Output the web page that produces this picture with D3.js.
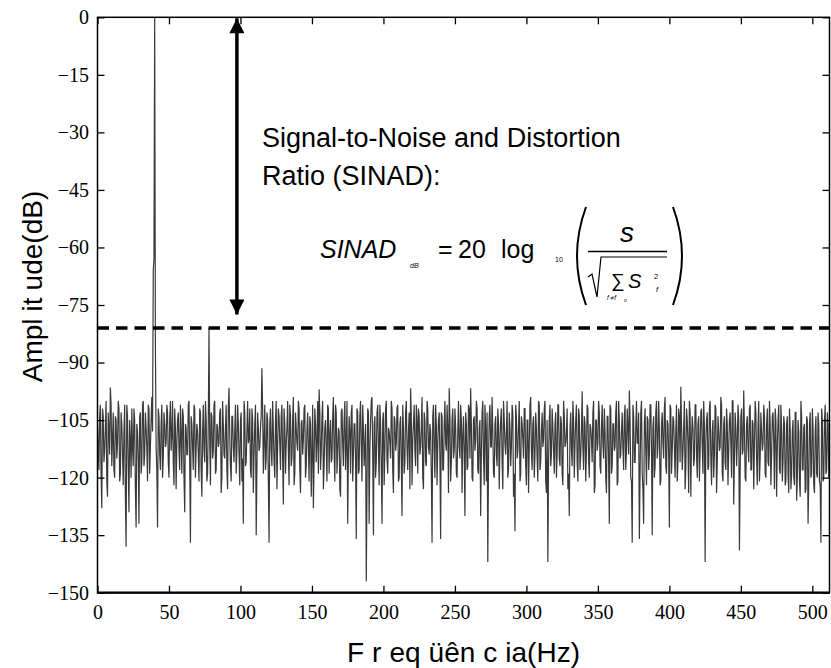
<!DOCTYPE html>
<html>
<head>
<meta charset="utf-8">
<script src="https://d3js.org/d3.v7.min.js"></script>
<style>
  body { margin: 0; background: #fff; }
  svg { display: block; }
  .title { font-family: "Liberation Sans", Arial, sans-serif; font-size: 28px; fill: #000; }
  .note { font-family: "Liberation Sans", Arial, sans-serif; font-size: 27px; fill: #000; }
  .eq { font-family: "Liberation Sans", Arial, sans-serif; fill: #000; }
</style>
</head>
<body>
<svg id="chart" width="831" height="668"></svg>
<script>
// spectrum: whole-Hz samples in blocks of 64 Hz ...
const noise000 = [-106,-118,-101,-128,-104,-113,-100,-125,-108,-96.5,-117,-103,-120,-105,-111,-102,
  -119,-106,-122,-101,-138,-104,-129,-110,-102,-117,-105,-133,-108,-132,-103,-116,
  -100,-114,-107,-121,-102,-112,-99,-66,0,-112,-133,-104,-118,-101,-115,-106,
  -111,-103,-120,-100,-109,-116,-102,-123,-105,-113,-101,-119,-104,-129,-107,-114];
const noise064 = [-100,-137,-106,-118,-102,-112,-108,-121,-103,-125,-101,-116,-105,-119,-81,-122,
  -104,-113,-100,-118,-107,-111,-102,-120,-106,-115,-101,-123,-96.6,-117,-104,-112,
  -108,-119,-101,-114,-105,-121,-132,-103,-116,-100,-110,-118,-102,-124,-106,-135,
  -103,-113,-107,-91.5,-119,-101,-115,-105,-137,-102,-117,-108,-120,-100,-112,-104];
const noise128 = [-118,-101,-127,-106,-111,-100,-122,-104,-115,-99,-119,-107,-113,-102,-124,-105,
  -110,-101,-117,-103,-121,-106,-114,-128,-102,-116,-100,-97,-118,-104,-123,-107,
  -112,-101,-119,-105,-115,-99,-121,-103,-113,-108,-125,-102,-117,-100,-111,-132,
  -104,-119,-101,-114,-106,-136,-103,-118,-100,-121,-107,-112,-147,-102,-132,-105];
const noise192 = [-99,-135,-104,-116,-101,-122,-106,-132,-103,-113,-100,-119,-108,-115,-102,-124,
  -105,-111,-101,-120,-104,-130,-107,-116,-100,-118,-103,-96.7,-122,-106,-113,-101,
  -119,-104,-112,-99,-123,-105,-117,-102,-114,-108,-137,-101,-120,-106,-111,-103,
  -136,-104,-118,-100,-113,-107,-96.7,-121,-105,-115,-102,-119,-108,-112,-101,-124];
const noise256 = [-104,-130,-106,-117,-102,-96.7,-120,-105,-113,-100,-118,-107,-130,-103,-115,-101,
  -121,-142,-104,-112,-99,-119,-106,-114,-102,-123,-105,-116,-100,-111,-108,-120,
  -103,-117,-101,-125,-134,-104,-113,-100,-119,-106,-115,-102,-122,-105,-112,-99,
  -118,-104,-114,-107,-121,-101,-116,-103,-110,-100,-124,-142,-105,-117,-102,-113];
const noise320 = [-106,-120,-101,-115,-104,-119,-100,-112,-108,-123,-130,-103,-117,-105,-111,-101,
  -121,-104,-114,-97.5,-118,-106,-113,-102,-120,-107,-116,-100,-122,-105,-111,-103,
  -119,-101,-115,-108,-124,-104,-132,-102,-117,-106,-112,-100,-121,-105,-114,-103,
  -118,-101,-113,-107,-97.3,-120,-137,-104,-116,-100,-111,-136,-103,-119,-132,-102];
const noise384 = [-122,-105,-114,-101,-135,-104,-117,-100,-112,-107,-121,-103,-115,-99,-119,-106,
  -133,-102,-113,-105,-120,-101,-116,-104,-96.3,-118,-107,-123,-102,-111,-100,-125,
  -104,-117,-101,-114,-106,-121,-103,-112,-100,-142,-105,-118,-102,-115,-108,-120,
  -101,-124,-104,-113,-99,-119,-106,-116,-102,-122,-105,-111,-100,-127,-103,-117];
const noise448 = [-101,-139,-104,-114,-97.3,-120,-106,-112,-102,-118,-105,-123,-100,-115,-107,-121,
  -103,-113,-101,-119,-106,-116,-100,-122,-104,-111,-102,-125,-105,-118,-101,-121,
  -104,-122,-106,-119,-102,-123,-108,-120,-103,-126,-105,-121,-100,-118,-107,-124,
  -104,-132,-106,-120,-102,-122,-108,-119,-103,-121,-137,-105,-120,-101,-118,-106];

// ... and the half-Hz samples in between
const half000 = [-112,-104,-119,-102,-116,-107,-121,-103,-114,-101,-110,-118,-104,-115,-100,-121,
  -103,-114,-108,-125,-101,-117,-105,-120,-112,-102,-123,-106,-115,-104,-119,-101,
  -117,-103,-112,-101,-119,-105,-108,-63,-85,-118,-102,-114,-106,-120,-103,-112,
  -101,-116,-105,-113,-100,-122,-107,-111,-103,-118,-109,-102,-120,-106,-114,-101];
const half064 = [-116,-104,-112,-101,-120,-106,-114,-102,-118,-108,-113,-100,-121,-105,-110,-103,
  -115,-101,-119,-106,-112,-103,-124,-100,-114,-107,-118,-102,-109,-121,-104,-116,
  -101,-113,-106,-122,-103,-115,-100,-117,-108,-111,-102,-120,-105,-114,-101,-118,
  -107,-112,-104,-102,-110,-118,-103,-121,-106,-113,-100,-116,-105,-123,-102,-111];
const half128 = [-104,-115,-102,-119,-107,-113,-101,-117,-105,-122,-103,-111,-100,-118,-106,-114,
  -102,-120,-108,-112,-104,-125,-101,-116,-106,-110,-119,-103,-113,-100,-117,-105,
  -121,-102,-109,-116,-104,-113,-101,-119,-107,-123,-103,-111,-105,-118,-100,-114,
  -108,-103,-121,-106,-115,-102,-119,-104,-112,-101,-117,-106,-122,-103,-113,-100];
const half192 = [-114,-106,-120,-103,-112,-101,-117,-105,-122,-102,-115,-107,-111,-100,-118,-104,
  -113,-102,-121,-106,-116,-101,-119,-103,-112,-108,-123,-104,-110,-101,-117,-105,
  -102,-114,-107,-120,-103,-116,-100,-112,-106,-119,-104,-113,-101,-122,-105,-115,
  -103,-118,-106,-111,-101,-124,-104,-116,-102,-113,-107,-120,-100,-115,-105,-109];
const half256 = [-113,-103,-118,-101,-115,-106,-121,-104,-110,-102,-119,-105,-114,-100,-122,-107,
  -103,-116,-101,-112,-108,-120,-104,-117,-106,-111,-102,-123,-105,-114,-100,-118,
  -107,-112,-103,-119,-101,-115,-106,-121,-104,-110,-102,-117,-105,-124,-101,-113,
  -106,-120,-103,-115,-100,-118,-108,-112,-102,-121,-105,-116,-101,-114,-107,-119];
const half320 = [-103,-114,-101,-117,-106,-122,-104,-111,-102,-119,-107,-113,-100,-120,-105,-116,
  -102,-118,-108,-112,-104,-121,-101,-115,-106,-110,-103,-124,-105,-113,-100,-117,
  -107,-111,-102,-120,-104,-116,-101,-119,-106,-113,-103,-122,-100,-115,-108,-112,
  -104,-118,-102,-114,-105,-121,-101,-116,-107,-111,-103,-119,-100,-123,-106,-113];
const half384 = [-104,-118,-101,-113,-107,-120,-103,-115,-100,-122,-106,-111,-102,-117,-105,-114,
  -101,-119,-104,-112,-108,-121,-102,-116,-106,-113,-100,-118,-105,-124,-103,-110,
  -107,-115,-101,-120,-104,-113,-102,-119,-106,-111,-103,-117,-100,-122,-105,-114,
  -102,-116,-108,-112,-101,-121,-104,-118,-106,-113,-103,-120,-100,-115,-107,-111];
const half448 = [-105,-119,-102,-113,-107,-121,-104,-116,-101,-118,-106,-112,-103,-122,-100,-115,
  -108,-111,-104,-120,-102,-117,-106,-114,-103,-123,-105,-112,-101,-119,-107,-116,
  -106,-121,-104,-124,-107,-119,-105,-122,-103,-120,-108,-125,-104,-118,-106,-123,
  -105,-121,-103,-119,-107,-124,-104,-120,-106,-122,-102,-121,-105,-119,-103,-120];

const wholeHz = [].concat(noise000, noise064, noise128, noise192, noise256, noise320, noise384, noise448);
const halfHz = [].concat(half000, half064, half128, half192, half256, half320, half384, half448);
const freqStep = 0.5;
const amplitude = d3.merge(wholeHz.map((v, i) => [v, halfHz[i]]));

const sinadLevel = -81;      // dashed line, dB
const arrowFreq = 97.5;      // where the SINAD arrow stands, Hz
const arrowTop = 0, arrowBottom = -77.5;

const xTicks = [0, 50, 100, 150, 200, 250, 300, 350, 400, 450, 500];
const yTicks = [0, -15, -30, -45, -60, -75, -90, -105, -120, -135, -150];

const svg = d3.select('#chart');
const pLeft = 97.5, pRight = 829.5, pTop = 17.3, pBottom = 592.7;

const x = d3.scaleLinear().domain([0, 512]).range([pLeft, pRight]);
const y = d3.scaleLinear().domain([-150, 0]).range([pBottom, pTop]);

const defs = svg.append('defs');
defs.append('clipPath').attr('id', 'plotClip')
  .append('rect').attr('x', pLeft).attr('y', pTop).attr('width', pRight - pLeft).attr('height', pBottom - pTop);

// spectrum line
const line = d3.line()
  .x((d, i) => x(i * freqStep))
  .y(d => y(d));
svg.append('path')
  .datum(amplitude)
  .attr('clip-path', 'url(#plotClip)')
  .attr('d', line)
  .attr('fill', 'none')
  .attr('stroke', '#3a3a3a')
  .attr('stroke-width', 1.2);

// dashed SINAD level
svg.append('line')
  .attr('x1', pLeft).attr('x2', pRight)
  .attr('y1', y(sinadLevel)).attr('y2', y(sinadLevel))
  .attr('stroke', '#000').attr('stroke-width', 3.5)
  .attr('stroke-dasharray', '11.5,7');

// axes, ticks inward on all four sides
const serif = '"Liberation Serif", "Times New Roman", serif';
svg.append('g').attr('transform', `translate(0,${pBottom})`)
  .call(d3.axisBottom(x).tickValues(xTicks).tickSize(-7).tickPadding(12));
svg.append('g').attr('transform', `translate(${pLeft},0)`)
  .call(d3.axisLeft(y).tickValues(yTicks).tickSize(-7).tickPadding(8.5));
svg.append('g').attr('transform', `translate(0,${pTop})`)
  .call(d3.axisTop(x).tickValues(xTicks).tickSize(-7).tickFormat(''));
svg.append('g').attr('transform', `translate(${pRight},0)`)
  .call(d3.axisRight(y).tickValues(yTicks).tickSize(-7).tickFormat(''));
svg.selectAll('.domain').remove();
svg.selectAll('.tick line').attr('stroke', '#000').attr('stroke-width', 1.3);
svg.selectAll('.tick').select('text')
  .attr('font-family', serif).attr('font-size', 20)
  .style('font-family', serif).style('font-size', '20px')
  .attr('fill', '#000');

svg.append('rect')
  .attr('x', pLeft).attr('y', pTop).attr('width', pRight - pLeft).attr('height', pBottom - pTop)
  .attr('fill', 'none').attr('stroke', '#000').attr('stroke-width', 1.5);
svg.append('line').attr('x1', pLeft).attr('x2', pRight).attr('y1', pBottom).attr('y2', pBottom)
  .attr('stroke', '#000').attr('stroke-width', 2.2);

// axis titles
const xt = svg.append('text').attr('class', 'title')
  .attr('x', (pLeft + pRight) / 2).attr('y', 662).attr('text-anchor', 'middle');
['F', 'r', 'eq', 'üên', 'c', 'ia(Hz)'].forEach((s, i) => {
  xt.append('tspan').attr('dx', i ? 8 : 0).text(s);
});
const yt = svg.append('text').attr('class', 'title')
  .attr('transform', 'translate(41.5,286.5) rotate(-90)').attr('text-anchor', 'middle');
['Ampl', 'it', 'ude(dB)'].forEach((s, i) => {
  yt.append('tspan').attr('dx', i ? 7 : 0).text(s);
});

// double arrow
defs.append('marker').attr('id', 'head').attr('viewBox', '0 0 10 10')
  .attr('refX', 10).attr('refY', 5).attr('markerWidth', 17).attr('markerHeight', 15)
  .attr('markerUnits', 'userSpaceOnUse').attr('orient', 'auto-start-reverse')
  .append('path').attr('d', 'M0,0 L10,5 L0,10 Z').attr('fill', '#000');
svg.append('line')
  .attr('x1', x(arrowFreq)).attr('x2', x(arrowFreq))
  .attr('y1', y(arrowTop) + 1).attr('y2', y(arrowBottom))
  .attr('stroke', '#000').attr('stroke-width', 3.5)
  .attr('marker-start', 'url(#head)').attr('marker-end', 'url(#head)');

// annotation text
svg.append('text').attr('class', 'note').attr('x', 262).attr('y', 147).text('Signal-to-Noise and Distortion');
svg.append('text').attr('class', 'note').attr('x', 262).attr('y', 185).text('Ratio (SINAD):');

// SINAD formula
const eq = svg.append('g').attr('class', 'eq');
function eqText(tx, ty, size, s, italic, anchor) {
  eq.append('text').attr('x', tx).attr('y', ty).attr('font-size', size)
    .attr('font-style', italic ? 'italic' : 'normal')
    .attr('text-anchor', anchor || 'start').text(s);
}
eqText(320, 258, 25, 'SINAD', true);
eqText(410, 268, 7, 'dB', true);
eqText(438, 258, 25, '=', false);
eqText(458, 258, 25, '20', false);
eqText(501, 258, 25, 'log', false);
eqText(555, 262, 7, '10', false);
eqText(627, 242, 28, 's', true, 'middle');
eqText(618, 287, 19, '∑', false, 'middle');
eqText(628, 288, 20, 'S', true);
eqText(654, 279, 7.5, '2', false);
eqText(656, 292, 7.5, 'f', true);
eqText(607, 300, 6.5, 'f ≠f', true);
eqText(624, 302, 5, 'o', true);
eq.append('path').attr('d', 'M586,207 Q568,256 586,305')
  .attr('fill', 'none').attr('stroke', '#000').attr('stroke-width', 2);
eq.append('path').attr('d', 'M673,207 Q691,256 673,305')
  .attr('fill', 'none').attr('stroke', '#000').attr('stroke-width', 2);
eq.append('line').attr('x1', 588).attr('x2', 667).attr('y1', 251.5).attr('y2', 251.5)
  .attr('stroke', '#000').attr('stroke-width', 1.3);
eq.append('path').attr('d', 'M588,277 L592,274 L597,297 L601,257 L667,257')
  .attr('fill', 'none').attr('stroke', '#000').attr('stroke-width', 1.2);
</script>
</body>
</html>
